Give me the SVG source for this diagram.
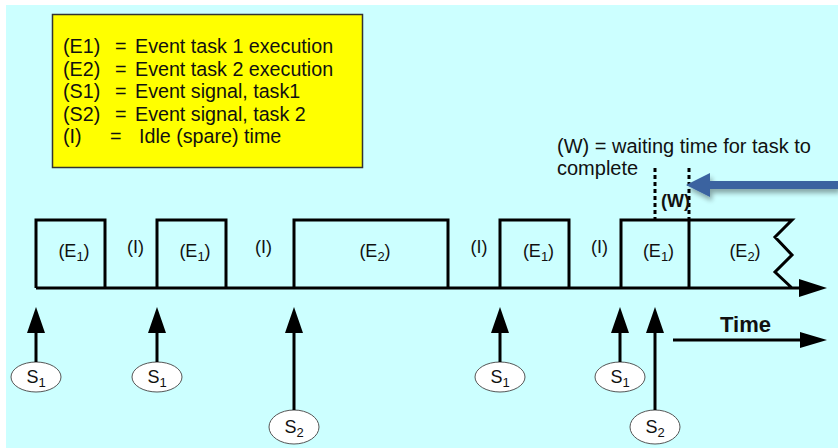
<svg xmlns="http://www.w3.org/2000/svg" width="838" height="448" viewBox="0 0 838 448">
<defs>
<style>
text{font-family:"Liberation Sans",Arial,sans-serif;fill:#111}
.lg{font-size:19.7px}
.wt{font-size:20px}
.lb{font-size:18px;text-anchor:middle}
.sb{font-size:13px}
.ln{fill:none;stroke:#000;stroke-width:3;stroke-linejoin:miter}
.sig{fill:#fff;stroke:#555;stroke-width:1}
.ah{fill:#000;stroke:none}
</style>
<filter id="sh" x="-10%" y="-50%" width="120%" height="250%">
<feGaussianBlur in="SourceAlpha" stdDeviation="2.5"/>
<feOffset dx="2" dy="4" result="b"/>
<feComponentTransfer><feFuncA type="linear" slope="0.35"/></feComponentTransfer>
<feMerge><feMergeNode/><feMergeNode in="SourceGraphic"/></feMerge>
</filter>
</defs>
<rect x="0" y="0" width="838" height="448" fill="#fff"/>
<rect x="6" y="5" width="832" height="443" fill="#CCFFFF"/>

<g id="legend">
<rect x="52.5" y="14.5" width="310" height="153" fill="#FFFF00" stroke="#333" stroke-width="1.5"/>
<text class="lg" x="63" y="53">(E1)</text><text class="lg" x="115" y="53">=</text><text class="lg" x="135" y="53">Event task 1 execution</text>
<text class="lg" x="63" y="75.5">(E2)</text><text class="lg" x="115" y="75.5">=</text><text class="lg" x="135" y="75.5">Event task 2 execution</text>
<text class="lg" x="63" y="98">(S1)</text><text class="lg" x="115" y="98">=</text><text class="lg" x="135" y="98">Event signal, task1</text>
<text class="lg" x="63" y="120.5">(S2)</text><text class="lg" x="115" y="120.5">=</text><text class="lg" x="135" y="120.5">Event signal, task 2</text>
<text class="lg" x="63" y="143">(I)</text><text class="lg" x="110" y="143">=</text><text class="lg" x="139" y="143">Idle (spare) time</text>
</g>

<g id="waiting-note">
<text class="wt" x="557" y="153">(W) = waiting time for task to</text>
<text class="wt" x="557" y="175">complete</text>
<line x1="655" y1="168" x2="655" y2="220" stroke="#000" stroke-width="3" stroke-dasharray="4,3"/>
<line x1="689" y1="168" x2="689" y2="220" stroke="#000" stroke-width="3" stroke-dasharray="4,3"/>
<text x="661" y="207" style="font-size:18px;font-weight:bold">(W)</text>
</g>

<g id="timeline">
<path class="ln" d="M36,288 V220 H105 V288 M157,288 V220 H226 V288 M294,288 V220 H448 V288 M500,288 V220 H569 V288 M621,288 V220 H792 L775,237 L792,255 L775,272 L792,288 M689,220 V288 M36,288 H800"/>
<polygon class="ah" points="799,279 827,288 799,297"/>
</g>

<g id="labels">
<text class="lb" x="74" y="257">(E<tspan class="sb" dy="4">1</tspan><tspan dy="-4">)</tspan></text>
<text class="lb" x="135.5" y="253">(I)</text>
<text class="lb" x="195" y="257">(E<tspan class="sb" dy="4">1</tspan><tspan dy="-4">)</tspan></text>
<text class="lb" x="263.5" y="253">(I)</text>
<text class="lb" x="375" y="257">(E<tspan class="sb" dy="4">2</tspan><tspan dy="-4">)</tspan></text>
<text class="lb" x="479" y="253">(I)</text>
<text class="lb" x="538.5" y="257">(E<tspan class="sb" dy="4">1</tspan><tspan dy="-4">)</tspan></text>
<text class="lb" x="599.5" y="253">(I)</text>
<text class="lb" x="658.5" y="257">(E<tspan class="sb" dy="4">1</tspan><tspan dy="-4">)</tspan></text>
<text class="lb" x="745" y="257">(E<tspan class="sb" dy="4">2</tspan><tspan dy="-4">)</tspan></text>
</g>

<g id="sig-1"><ellipse class="sig" cx="36" cy="377" rx="25" ry="15"/><text class="lb" x="36" y="383">S<tspan class="sb" dy="4">1</tspan></text></g>
<g id="sig-2"><ellipse class="sig" cx="157" cy="377" rx="25" ry="15"/><text class="lb" x="157" y="383">S<tspan class="sb" dy="4">1</tspan></text></g>
<g id="sig-3"><ellipse class="sig" cx="294" cy="427" rx="25" ry="17"/><text class="lb" x="294" y="433">S<tspan class="sb" dy="4">2</tspan></text></g>
<g id="sig-4"><ellipse class="sig" cx="500" cy="377" rx="25" ry="15"/><text class="lb" x="500" y="383">S<tspan class="sb" dy="4">1</tspan></text></g>
<g id="sig-5"><ellipse class="sig" cx="620" cy="377" rx="25" ry="15"/><text class="lb" x="620" y="383">S<tspan class="sb" dy="4">1</tspan></text></g>
<g id="sig-6"><ellipse class="sig" cx="655" cy="427" rx="25" ry="17"/><text class="lb" x="655" y="433">S<tspan class="sb" dy="4">2</tspan></text></g>

<g id="time-label"><text x="720" y="332" style="font-size:22px;font-weight:bold">Time</text></g>

<g id="connectors">
<line x1="36" y1="362" x2="36" y2="330" stroke="#000" stroke-width="3"/><polygon class="ah" points="36,307 27,333 45,333"/>
<line x1="157" y1="362" x2="157" y2="330" stroke="#000" stroke-width="3"/><polygon class="ah" points="157,307 148,333 166,333"/>
<line x1="294" y1="410" x2="294" y2="330" stroke="#000" stroke-width="3"/><polygon class="ah" points="294,307 285,333 303,333"/>
<line x1="500" y1="362" x2="500" y2="330" stroke="#000" stroke-width="3"/><polygon class="ah" points="500,307 491,333 509,333"/>
<line x1="620" y1="362" x2="620" y2="330" stroke="#000" stroke-width="3"/><polygon class="ah" points="620,307 611,333 629,333"/>
<line x1="655" y1="410" x2="655" y2="330" stroke="#000" stroke-width="3"/><polygon class="ah" points="655,307 646,333 664,333"/>
<line x1="673" y1="340" x2="802" y2="340" stroke="#000" stroke-width="3"/><polygon class="ah" points="800,332 827,340 800,348"/>
<g filter="url(#sh)"><path d="M838,181 H710 V173 L686,185 L710,197 V189 H838 Z" fill="#3A63A0"/></g>
</g>
</svg>
